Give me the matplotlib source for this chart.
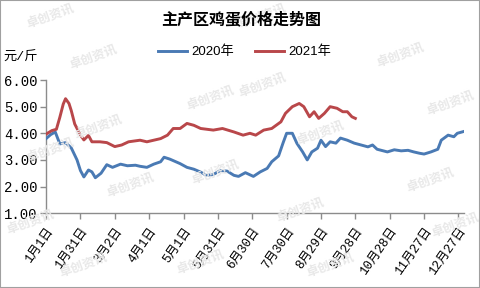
import matplotlib
matplotlib.use('Agg')
import matplotlib.pyplot as plt
from matplotlib.patches import Rectangle

plt.rcParams['font.family'] = ['Liberation Mono', 'Noto Sans CJK SC', 'DejaVu Sans']

# data (day of year, price yuan/jin)
days_2020 = [0, 4, 8, 12, 17, 22, 27, 30, 33, 37, 40, 43, 48, 53, 58, 65, 71, 78, 82,
             88, 94, 100, 103, 108, 117, 123, 129, 135, 140, 146, 152, 158, 164, 168,
             174, 181, 187, 193, 197, 203, 207, 210, 215, 219, 224, 228, 232, 237, 240,
             244, 248, 253, 257, 263, 269, 275, 281, 285, 289, 298, 304, 310, 316, 321,
             326, 330, 336, 342, 345, 351, 356, 359, 364]
price_2020 = [3.8, 3.95, 4.05, 3.6, 3.65, 3.45, 3.0, 2.6, 2.36, 2.62, 2.55, 2.33, 2.5, 2.82,
              2.72, 2.84, 2.78, 2.8, 2.76, 2.72, 2.84, 2.93, 3.1, 3.03, 2.86, 2.72, 2.65,
              2.54, 2.42, 2.45, 2.6, 2.58, 2.42, 2.38, 2.52, 2.38, 2.55, 2.68, 2.93, 3.15,
              3.65, 4.0, 4.0, 3.62, 3.3, 3.0, 3.3, 3.44, 3.74, 3.5, 3.68, 3.63, 3.82, 3.74,
              3.63, 3.56, 3.49, 3.56, 3.4, 3.3, 3.38, 3.34, 3.36, 3.3, 3.25, 3.22, 3.3, 3.4,
              3.74, 3.93, 3.87, 4.0, 4.06]

days_2021 = [0, 5, 9, 12, 15, 17, 20, 22, 25, 30, 33, 37, 40, 47, 53, 60, 66, 72, 82, 88,
             100, 106, 111, 117, 123, 129, 135, 146, 154, 164, 172, 178, 183, 190, 197, 205,
             209, 215, 221, 225, 230, 234, 238, 243, 248, 254, 259, 263, 267, 270]
price_2021 = [3.97, 4.1, 4.15, 4.6, 5.1, 5.3, 5.12, 4.85, 4.35, 3.93, 3.75, 3.92, 3.68,
              3.68, 3.65, 3.5, 3.56, 3.68, 3.74, 3.68, 3.8, 3.93, 4.18, 4.18, 4.37, 4.3,
              4.18, 4.12, 4.18, 4.05, 3.93, 4.0, 3.93, 4.12, 4.18, 4.43, 4.75, 5.0, 5.12,
              5.0, 4.62, 4.81, 4.56, 4.75, 5.0, 4.94, 4.81, 4.81, 4.62, 4.56]

tick_days = [0, 30, 60, 90, 120, 150, 180, 210, 240, 270, 300, 330, 360]
tick_labels = ['1月1日', '1月31日', '3月2日', '4月1日', '5月1日', '5月31日', '6月30日',
               '7月30日', '8月29日', '9月28日', '10月28日', '11月27日', '12月27日']
y_ticks = [1, 2, 3, 4, 5, 6]

fig = plt.figure(figsize=(4.8, 2.88), dpi=100)
ax = fig.add_axes([0.096, 0.26, 0.871, 0.462])

# faint watermark
wm = [(50, 16), (93, 57), (210, 98), (98, 127), (262, 16), (400, 55), (262, 85), (450, 103),
      (50, 150), (130, 185), (83, 265), (430, 180), (300, 210), (330, 265), (320, 133),
      (215, 172), (30, 222), (455, 225), (200, 262)]
for x, y in wm:
    fig.text(x / 480, 1 - y / 288, '卓创资讯', rotation=20, color='#e8e8e8',
             fontsize=9, fontweight='bold', ha='center', va='center',
             family=['Noto Sans CJK SC'], zorder=0)

ax.plot(days_2020, price_2020, color='#4a7ab4', lw=2.1, label='2020年', zorder=3)
ax.plot(days_2021, price_2021, color='#b9474a', lw=2.1, label='2021年', zorder=3)

ax.set_xlim(0, 365)
ax.set_ylim(1, 6)
ax.set_yticks(y_ticks)
ax.set_yticklabels(['%.2f' % v for v in y_ticks], fontsize=10)
ax.set_xticks(tick_days)
ax.set_xticklabels(tick_labels, rotation=55, ha='right', va='top',
                   rotation_mode='anchor', fontsize=9)
ax.patch.set_alpha(0)

for s in ['top', 'right']:
    ax.spines[s].set_visible(False)
for s in ['left', 'bottom']:
    ax.spines[s].set_color('#8c8c8c')
    ax.spines[s].set_linewidth(1.0)
ax.tick_params(axis='both', direction='out', length=4, color='#8c8c8c', width=1.0, pad=2)
ax.tick_params(axis='x', pad=5)

fig.text(0.503, 0.935, '主产区鸡蛋价格走势图', ha='center', va='center', fontsize=11.5,
         fontweight='bold', family=['Noto Sans CJK SC'])
fig.text(0.008, 0.80, '元/斤', ha='left', va='center', fontsize=9.5)

fig.legend(loc='center', bbox_to_anchor=(0.51, 0.82), ncol=2, frameon=False,
           prop={'family': ['Liberation Sans', 'Noto Sans CJK SC'], 'size': 9.5},
           handlelength=2.2, handletextpad=0.3, columnspacing=1.6)

fig.add_artist(Rectangle((0, 0), 1, 1, transform=fig.transFigure, fill=False,
                         ec='#a0a0a0', lw=1.5))

fig.savefig('out.png', dpi=100)
